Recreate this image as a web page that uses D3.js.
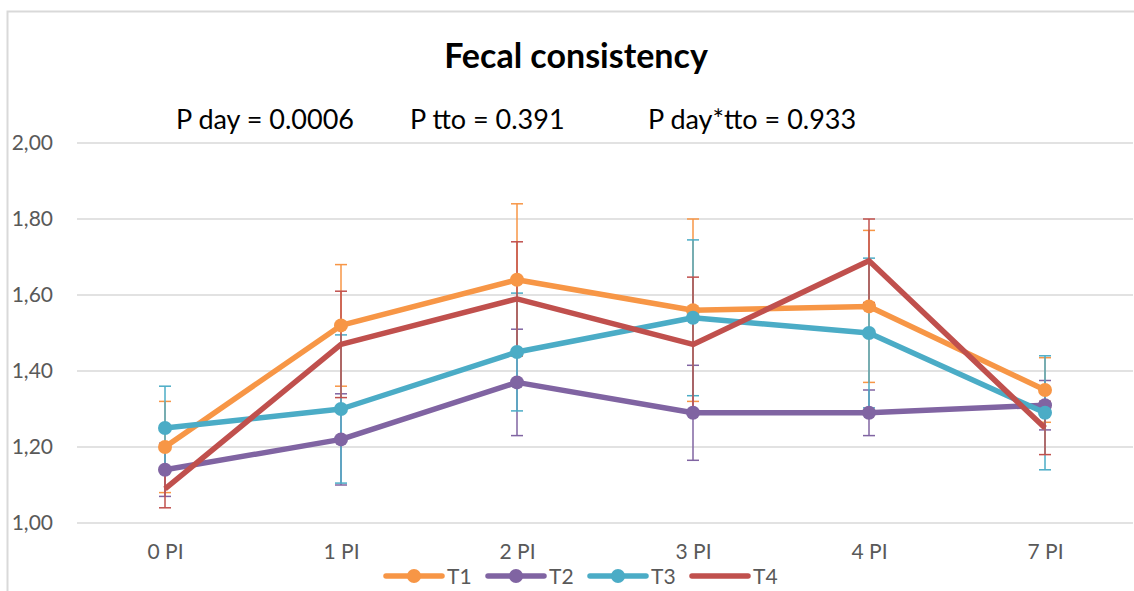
<!DOCTYPE html>
<html>
<head>
<meta charset="utf-8">
<script src="https://cdn.jsdelivr.net/npm/d3@7"></script>
<style>
  body { margin: 0; background: #fff; }
  text { font-family: Lato, "Noto Sans", sans-serif; }
</style>
</head>
<body>
<div id="chart"></div>
<script>
// data
const days = ["0 PI", "1 PI", "2 PI", "3 PI", "4 PI", "7 PI"];
const seriesNames = ["T1", "T2", "T3", "T4"];
const t1 = [1.20, 1.52, 1.64, 1.56, 1.57, 1.35];
const t2 = [1.14, 1.22, 1.37, 1.29, 1.29, 1.31];
const t3 = [1.25, 1.30, 1.45, 1.54, 1.50, 1.29];
const t4 = [1.09, 1.47, 1.59, 1.47, 1.69, 1.25];
const t1Err = [0.12, 0.16, 0.20, 0.24, 0.20, 0.085];
const t2Err = [0.07, 0.12, 0.14, 0.125, 0.06, 0.065];
const t3Err = [0.11, 0.195, 0.155, 0.205, 0.197, 0.15];
const t4Err = [0.05, 0.14, 0.15, 0.177, 0.11, 0.07];
const yTicks = [1.0, 1.2, 1.4, 1.6, 1.8, 2.0];
const stats = ["P day = 0.0006", "P tto = 0.391", "P day*tto = 0.933"];

const colors = ["#F79646", "#8064A2", "#4BACC6", "#C0504D"];
const hasMarker = [true, true, true, false];
const series = [t1, t2, t3, t4].map((vals, i) => ({
  name: seriesNames[i],
  color: colors[i],
  marker: hasMarker[i],
  values: vals.map((v, j) => ({ day: days[j], v, e: [t1Err, t2Err, t3Err, t4Err][i][j] }))
}));

const width = 1134, height = 591;
const margin = { top: 143, right: 1, bottom: 68, left: 77 };

const svg = d3.select("#chart").append("svg")
  .attr("width", width)
  .attr("height", height);

// chart frame (cropped)
svg.append("path")
  .attr("d", `M7.5,${height} V11.5 H${width}`)
  .attr("fill", "none")
  .attr("stroke", "#d9d9d9")
  .attr("stroke-width", 2);

const x = d3.scalePoint()
  .domain(days)
  .range([margin.left, width - margin.right])
  .padding(0.5);

const y = d3.scaleLinear()
  .domain([1, 2])
  .range([height - margin.bottom, margin.top]);

// gridlines
svg.append("g")
  .selectAll("line")
  .data(yTicks)
  .join("line")
  .attr("x1", margin.left)
  .attr("x2", width - margin.right)
  .attr("y1", d => y(d))
  .attr("y2", d => y(d))
  .attr("stroke", "#d9d9d9")
  .attr("stroke-width", 1.3);

// y axis labels
const yAxis = svg.append("g")
  .attr("transform", `translate(53,0)`)
  .call(d3.axisLeft(y).tickValues(yTicks).tickSize(0).tickFormat(d => d3.format(".2f")(d).replace(".", ",")));
yAxis.select(".domain").remove();
yAxis.attr("font-size", null).attr("font-family", null);
yAxis.selectAll("text")
  .attr("x", 0)
  .attr("fill", "#595959")
  .style("font-size", "21px");

// x axis labels
const xAxis = svg.append("g")
  .attr("transform", `translate(0,${height - margin.bottom})`)
  .call(d3.axisBottom(x).tickSize(0));
xAxis.select(".domain").remove();
xAxis.attr("font-size", null).attr("font-family", null);
xAxis.selectAll("text")
  .attr("y", 21)
  .attr("fill", "#595959")
  .style("font-size", "21px");

// error bars
const capW = 6;
series.forEach(s => {
  const g = svg.append("g");
  g.selectAll("line.bar")
    .data(s.values)
    .join("line")
    .attr("class", "bar")
    .attr("x1", d => x(d.day)).attr("x2", d => x(d.day))
    .attr("y1", d => y(d.v - d.e)).attr("y2", d => y(d.v + d.e))
    .attr("stroke", s.color).attr("stroke-width", 1.5);
  ["lo", "hi"].forEach(k => {
    g.selectAll("line.cap-" + k)
      .data(s.values)
      .join("line")
      .attr("class", "cap-" + k)
      .attr("x1", d => x(d.day) - capW).attr("x2", d => x(d.day) + capW)
      .attr("y1", d => y(k === "lo" ? d.v - d.e : d.v + d.e))
      .attr("y2", d => y(k === "lo" ? d.v - d.e : d.v + d.e))
      .attr("stroke", s.color).attr("stroke-width", 1.5);
  });
});

// lines + markers
const line = d3.line().x(d => x(d.day)).y(d => y(d.v));
series.forEach(s => {
  svg.append("path")
    .datum(s.values)
    .attr("fill", "none")
    .attr("stroke", s.color)
    .attr("stroke-width", 5.5)
    .attr("stroke-linejoin", "round")
    .attr("d", line);
  if (s.marker) {
    svg.append("g").selectAll("circle")
      .data(s.values)
      .join("circle")
      .attr("cx", d => x(d.day))
      .attr("cy", d => y(d.v))
      .attr("r", 7)
      .attr("fill", s.color);
  }
});

// title
svg.append("text")
  .attr("x", 576)
  .attr("y", 68)
  .attr("text-anchor", "middle")
  .style("font-size", "34px")
  .style("font-weight", "bold")
  .attr("fill", "#000")
  .text("Fecal consistency");

// stats
const statX = [176, 410, 648];
svg.append("g").selectAll("text")
  .data(stats)
  .join("text")
  .attr("x", (d, i) => statX[i])
  .attr("y", 129)
  .style("font-size", "27px")
  .attr("fill", "#000")
  .text(d => d);

// legend
const legX = [386, 488, 590, 692];
const leg = svg.append("g").selectAll("g")
  .data(series)
  .join("g")
  .attr("transform", (d, i) => `translate(${legX[i]},576)`);
leg.append("line")
  .attr("x1", 0).attr("x2", 56)
  .attr("stroke", d => d.color)
  .attr("stroke-width", 5.5)
  .attr("stroke-linecap", "round");
leg.filter(d => d.marker).append("circle")
  .attr("cx", 28).attr("r", 7)
  .attr("fill", d => d.color);
leg.append("text")
  .attr("x", 61)
  .attr("y", 7.5)
  .style("font-size", "21px")
  .attr("fill", "#595959")
  .text(d => d.name);
</script>
</body>
</html>
